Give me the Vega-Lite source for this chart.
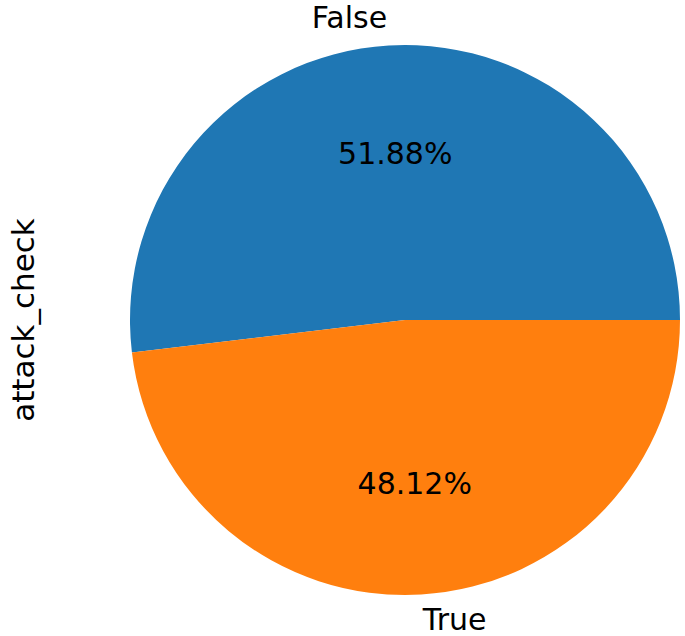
{
  "$schema": "https://vega.github.io/schema/vega-lite/v6.json",
  "autosize": {"type": "none"},
  "width": 560,
  "height": 632,
  "padding": {"left": 125, "top": 4, "right": 0, "bottom": 0},
  "background": "white",
  "config": {"view": {"stroke": null}, "font": "DejaVu Sans"},
  "title": {"text": "attack_check", "orient": "left", "anchor": "middle", "offset": 84, "fontSize": 31, "font": "DejaVu Sans", "fontWeight": "normal", "color": "black"},
  "data": {"values": [
    {"label": "False", "pct": 51.88, "order": 1, "text": "51.88%"},
    {"label": "True", "pct": 48.12, "order": 2, "text": "48.12%"}
  ]},
  "encoding": {
    "theta": {"field": "pct", "type": "quantitative", "stack": true, "scale": {"range": [1.5707963, -4.7123890]}},
    "order": {"field": "order", "type": "quantitative"}
  },
  "layer": [
    {
      "mark": {"type": "arc", "outerRadius": 275, "stroke": null},
      "encoding": {
        "color": {"field": "label", "type": "nominal", "scale": {"domain": ["False", "True"], "range": ["#1f77b4", "#ff7f0e"]}, "legend": null}
      }
    },
    {
      "mark": {"type": "text", "radius": 165, "fontSize": 30, "color": "black", "align": "center", "baseline": "middle"},
      "encoding": {"text": {"field": "text"}}
    },
    {
      "mark": {"type": "text", "radius": 302, "fontSize": 30, "color": "black", "align": "right", "baseline": "middle"},
      "encoding": {"text": {"condition": {"test": "datum.label === 'False'", "field": "label"}, "value": ""}}
    },
    {
      "mark": {"type": "text", "radius": 302, "fontSize": 30, "color": "black", "align": "left", "baseline": "middle"},
      "encoding": {"text": {"condition": {"test": "datum.label === 'True'", "field": "label"}, "value": ""}}
    }
  ]
}
